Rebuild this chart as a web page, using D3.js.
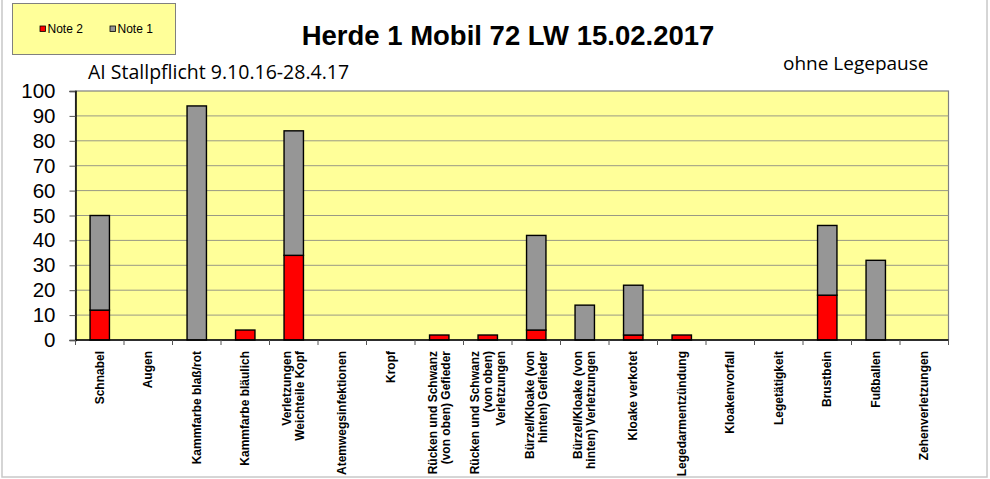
<!DOCTYPE html>
<html>
<head>
<meta charset="utf-8"/>
<title>Herde 1 Mobil 72 LW 15.02.2017</title>
<script src="https://d3js.org/d3.v7.min.js"></script>
<style>
  body { margin:0; background:#fff; }
  svg { display:block; font-family: "Liberation Sans", Arial, sans-serif; }
</style>
</head>
<body>
<div id="chart"></div>
<script>
// data
var categories = [
  ["Schnabel"],
  ["Augen"],
  ["Kammfarbe blaß/rot"],
  ["Kammfarbe bläulich"],
  ["Verletzungen", "Weichteile Kopf"],
  ["Atemwegsinfektionen"],
  ["Kropf"],
  ["Rücken und Schwanz", "(von oben) Gefieder"],
  ["Rücken und Schwanz", "(von oben)", "Verletzungen"],
  ["Bürzel/Kloake (von", "hinten) Gefieder"],
  ["Bürzel/Kloake (von", "hinten) Verletzungen"],
  ["Kloake verkotet"],
  ["Legedarmentzündung"],
  ["Kloakenvorfall"],
  ["Legetätigkeit"],
  ["Brustbein"],
  ["Fußballen"],
  ["Zehenverletzungen"]
];
var note2 = [12, 0, 0, 4, 34, 0, 0, 2, 2, 4, 0, 2, 2, 0, 0, 18, 0, 0];
var note1 = [38, 0, 94, 0, 50, 0, 0, 0, 0, 38, 14, 20, 0, 0, 0, 28, 32, 0];
var yTicks = [0, 10, 20, 30, 40, 50, 60, 70, 80, 90, 100];

var width = 990, height = 479;
var plot = {left: 75.5, right: 948.5, top: 91, bottom: 340};

var svg = d3.select("#chart").append("svg")
  .attr("width", width).attr("height", height);

// outer frame
svg.append("rect")
  .attr("x", 2).attr("y", -5).attr("width", 985).attr("height", 482)
  .attr("fill", "none").attr("stroke", "#c8c8c8").attr("stroke-width", 1.5);

var x = d3.scaleBand()
  .domain(d3.range(categories.length))
  .range([plot.left, plot.right])
  .paddingInner(0.6).paddingOuter(0.3);
var xBand = d3.scaleBand()
  .domain(d3.range(categories.length))
  .range([plot.left, plot.right]);
var y = d3.scaleLinear().domain([0, 100]).range([plot.bottom, plot.top]);

// plot background
svg.append("rect")
  .attr("x", plot.left).attr("y", plot.top)
  .attr("width", plot.right - plot.left).attr("height", plot.bottom - plot.top)
  .attr("fill", "#ffff99").attr("stroke", "#808080").attr("stroke-width", 1.2);

// gridlines
svg.append("g").selectAll("line")
  .data(yTicks.filter(function(d){ return d > 0 && d < 100; }))
  .join("line")
  .attr("x1", plot.left).attr("x2", plot.right)
  .attr("y1", function(d){ return y(d); }).attr("y2", function(d){ return y(d); })
  .attr("stroke", "#999985").attr("stroke-width", 1);

// stacked bars
var stack = d3.stack().keys(["note2", "note1"]);
var rows = categories.map(function(c, i){ return {i: i, note2: note2[i], note1: note1[i]}; });
var series = stack(rows);
var colors = {note2: "#ff0000", note1: "#969696"};

svg.append("g").selectAll("g")
  .data(series)
  .join("g")
  .attr("fill", function(s){ return colors[s.key]; })
  .selectAll("rect")
  .data(function(s){ return s.filter(function(d){ return d[1] - d[0] > 0; }); })
  .join("rect")
  .attr("x", function(d){ return x(d.data.i); })
  .attr("width", x.bandwidth())
  .attr("y", function(d){ return y(d[1]); })
  .attr("height", function(d){ return y(d[0]) - y(d[1]); })
  .attr("stroke", "#000").attr("stroke-width", 1.4);

// y axis
var yAxis = svg.append("g")
  .attr("transform", "translate(" + plot.left + ",0)")
  .call(d3.axisLeft(y).tickValues(yTicks).tickSize(6).tickPadding(14));
yAxis.select(".domain").attr("stroke", "#000").attr("stroke-width", 1.5);
yAxis.selectAll(".tick line").attr("stroke", "#555");
yAxis.selectAll("text").attr("font-size", 20.5).attr("fill", "#000")
  .attr("font-family", "Liberation Sans, Arial, sans-serif");

// x axis: ticks at category boundaries
var xAxisG = svg.append("g");
xAxisG.append("line")
  .attr("x1", plot.left).attr("x2", plot.right)
  .attr("y1", plot.bottom).attr("y2", plot.bottom)
  .attr("stroke", "#000").attr("stroke-width", 1.5);
xAxisG.selectAll("line.tk")
  .data(d3.range(categories.length + 1))
  .join("line").attr("class", "tk")
  .attr("x1", function(i){ return i < categories.length ? xBand(i) : plot.right; })
  .attr("x2", function(i){ return i < categories.length ? xBand(i) : plot.right; })
  .attr("y1", plot.bottom).attr("y2", plot.bottom + 5)
  .attr("stroke", "#555");

// category labels, rotated
var lineH = 13;
var lab = svg.append("g").selectAll("text")
  .data(categories)
  .join("text")
  .attr("transform", function(d, i){
    var cx = xBand(i) + xBand.bandwidth() / 2;
    return "translate(" + cx + "," + (plot.bottom + 11) + ") rotate(-90)";
  })
  .attr("text-anchor", "end")
  .attr("font-size", 12).attr("font-weight", "bold").attr("fill", "#000");
lab.selectAll("tspan")
  .data(function(d){ return d.map(function(t, k){ return {t: t, k: k, n: d.length}; }); })
  .join("tspan")
  .attr("x", 0)
  .attr("y", function(d){ return (d.k - (d.n - 1) / 2) * lineH; })
  .attr("dy", "0.35em")
  .text(function(d){ return d.t; });

// title and notes
svg.append("text")
  .attr("x", 508).attr("y", 45).attr("text-anchor", "middle")
  .attr("font-size", 27.5).attr("font-weight", "bold")
  .text("Herde 1 Mobil 72 LW 15.02.2017");

svg.append("text")
  .attr("x", 88).attr("y", 79)
  .attr("font-family", "Open Sans, sans-serif").attr("font-size", 19.5)
  .text("AI Stallpflicht 9.10.16-28.4.17");

svg.append("text")
  .attr("x", 783).attr("y", 70)
  .attr("font-family", "Open Sans, sans-serif").attr("font-size", 19)
  .text("ohne Legepause");

// legend
var leg = svg.append("g");
leg.append("rect")
  .attr("x", 12.5).attr("y", 3.5).attr("width", 163).attr("height", 51)
  .attr("fill", "#ffff99").attr("stroke", "#808080");
var legItems = [{name: "Note 2", key: "note2", x: 40}, {name: "Note 1", key: "note1", x: 110}];
var li = leg.selectAll("g.item").data(legItems).join("g").attr("class", "item");
li.append("rect")
  .attr("x", function(d){ return d.x; }).attr("y", 26)
  .attr("width", 5.5).attr("height", 5.5)
  .attr("fill", function(d){ return colors[d.key]; })
  .attr("stroke", "#000").attr("stroke-width", 0.8);
li.append("text")
  .attr("x", function(d){ return d.x + 7.5; }).attr("y", 33)
  .attr("font-size", 12)
  .text(function(d){ return d.name; });
</script>
</body>
</html>
